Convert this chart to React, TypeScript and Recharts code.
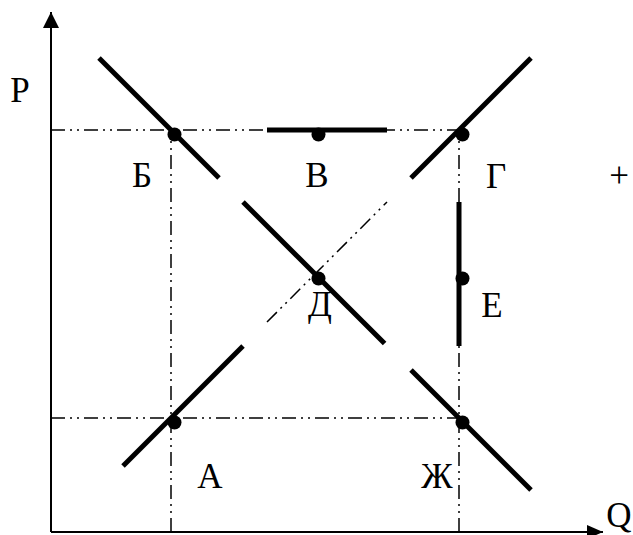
import React from 'react';
import { ComposedChart, XAxis, YAxis, Line, Scatter } from 'recharts';

// Price / quantity levels of the grid (arbitrary units)
const Q_LEVELS = [10, 22, 34];
const P_LEVELS = [9.5, 21.5, 33.5];

// Axes (with arrow tips)
const yAxisLine = [{ q: 0, p: 0 }, { q: 0, p: 43.33 }];
const xAxisLine = [{ q: 0, p: 0 }, { q: 46, p: 0 }];
const arrowTips = [
  { q: 0, p: 43.33, dir: 'up' },
  { q: 46, p: 0, dir: 'right' },
];

// Demand (downward) segments
const demand1 = [{ q: 4, p: 39.5 }, { q: 14, p: 29.5 }];
const demand2 = [{ q: 16, p: 27.5 }, { q: 27.8, p: 15.7 }];
const demand3 = [{ q: 30, p: 13.5 }, { q: 40, p: 3.5 }];
// Supply (upward) segments
const supply1 = [{ q: 6, p: 5.5 }, { q: 16, p: 15.5 }];
const supply2 = [{ q: 30, p: 29.5 }, { q: 40, p: 39.5 }];
const supplyDashed = [{ q: 18, p: 17.5 }, { q: 28, p: 27.5 }];
// Horizontal (perfectly elastic) and vertical (perfectly inelastic) pieces
const horizontalB = [{ q: 18, p: 33.5 }, { q: 28, p: 33.5 }];
const verticalE = [{ q: 34, p: 15.5 }, { q: 34, p: 27.5 }];

// Guide lines
const guideTop = [{ q: 0, p: P_LEVELS[2] }, { q: Q_LEVELS[2], p: P_LEVELS[2] }];
const guideBottom = [{ q: 0, p: P_LEVELS[0] }, { q: Q_LEVELS[2], p: P_LEVELS[0] }];
const guideLeft = [{ q: Q_LEVELS[0], p: 0 }, { q: Q_LEVELS[0], p: P_LEVELS[2] }];
const guideRight = [{ q: Q_LEVELS[2], p: 0 }, { q: Q_LEVELS[2], p: P_LEVELS[2] }];

// Marked points
const points = [
  { name: 'А', q: Q_LEVELS[0], p: P_LEVELS[0] },
  { name: 'Б', q: Q_LEVELS[0], p: P_LEVELS[2] },
  { name: 'В', q: Q_LEVELS[1], p: P_LEVELS[2] },
  { name: 'Г', q: Q_LEVELS[2], p: P_LEVELS[2] },
  { name: 'Д', q: Q_LEVELS[1], p: P_LEVELS[1] },
  { name: 'Е', q: Q_LEVELS[2], p: P_LEVELS[1] },
  { name: 'Ж', q: Q_LEVELS[2], p: P_LEVELS[0] },
];

// Other texts anchored at data positions
const extraTexts = [
  { name: 'P', q: 0, p: 43.33 },
  { name: 'Q', q: 46, p: 0 },
  { name: '+', q: Q_LEVELS[2], p: P_LEVELS[2] },
];

// label offsets (pixels) — styling only
const LABEL_OFFSET: Record<string, [number, number]> = {
  'А': [39, 70],
  'Б': [-29, 57],
  'В': [2, 57],
  'Г': [37, 58],
  'Д': [5, 42],
  'Е': [33, 43],
  'Ж': [-22, 70],
  'P': [-31, 90],
  'Q': [16, -5],
  '+': [160, 57],
};

const FONT = '"Liberation Serif", "Times New Roman", serif';
const DASHDOT = '14 5 2 5 2 5';

const DotShape = (props: any) => {
  const { cx, cy } = props;
  if (cx == null || cy == null) return null;
  return <circle cx={cx + 3.5} cy={cy + 4.5} r={7} fill="#000" />;
};

const LabelShape = (props: any) => {
  const { cx, cy, payload } = props;
  if (cx == null || cy == null) return null;
  const off = LABEL_OFFSET[payload.name] || [0, 0];
  return (
    <text
      x={cx + off[0]}
      y={cy + off[1]}
      textAnchor="middle"
      fontFamily={FONT}
      fontSize={35}
      fill="#000"
    >
      {payload.name}
    </text>
  );
};

const ArrowShape = (props: any) => {
  const { cx, cy, payload } = props;
  if (cx == null || cy == null) return null;
  const d =
    payload.dir === 'up'
      ? `M${cx},${cy} L${cx - 8},${cy + 16} L${cx + 8},${cy + 16} Z`
      : `M${cx},${cy} L${cx - 16},${cy - 7} L${cx - 16},${cy + 7} Z`;
  return <path d={d} fill="#000" />;
};

const thick = {
  stroke: '#000',
  strokeWidth: 5,
  dot: false,
  activeDot: false,
  isAnimationActive: false,
  type: 'linear' as const,
};
const guide = {
  stroke: '#000',
  strokeWidth: 1.5,
  strokeDasharray: DASHDOT,
  dot: false,
  activeDot: false,
  isAnimationActive: false,
  type: 'linear' as const,
};
const axisStyle = {
  stroke: '#000',
  strokeWidth: 2,
  dot: false,
  activeDot: false,
  isAnimationActive: false,
  type: 'linear' as const,
};

export default function App() {
  return (
    <div style={{ position: 'absolute', left: 0, top: 0, width: 633, height: 535, background: '#fff' }}>
      <ComposedChart width={633} height={535} margin={{ top: 0, right: 0, bottom: 0, left: 0 }}>
        <XAxis dataKey="q" type="number" domain={[-4.25, 48.5]} hide allowDataOverflow />
        <YAxis dataKey="p" type="number" domain={[-0.25, 44.333]} hide allowDataOverflow />

        <Line data={guideTop} dataKey="p" {...guide} />
        <Line data={guideBottom} dataKey="p" {...guide} />
        <Line data={guideLeft} dataKey="p" {...guide} />
        <Line data={guideRight} dataKey="p" {...guide} />
        <Line data={supplyDashed} dataKey="p" {...guide} />

        <Line data={yAxisLine} dataKey="p" {...axisStyle} />
        <Line data={xAxisLine} dataKey="p" {...axisStyle} />

        <Line data={demand1} dataKey="p" {...thick} />
        <Line data={demand2} dataKey="p" {...thick} />
        <Line data={demand3} dataKey="p" {...thick} />
        <Line data={supply1} dataKey="p" {...thick} />
        <Line data={supply2} dataKey="p" {...thick} />
        <Line data={horizontalB} dataKey="p" {...thick} />
        <Line data={verticalE} dataKey="p" {...thick} />

        <Scatter data={arrowTips} dataKey="p" shape={ArrowShape} isAnimationActive={false} />
        <Scatter data={points} dataKey="p" shape={DotShape} isAnimationActive={false} />
        <Scatter data={points} dataKey="p" shape={LabelShape} isAnimationActive={false} />
        <Scatter data={extraTexts} dataKey="p" shape={LabelShape} isAnimationActive={false} />
      </ComposedChart>
    </div>
  );
}
